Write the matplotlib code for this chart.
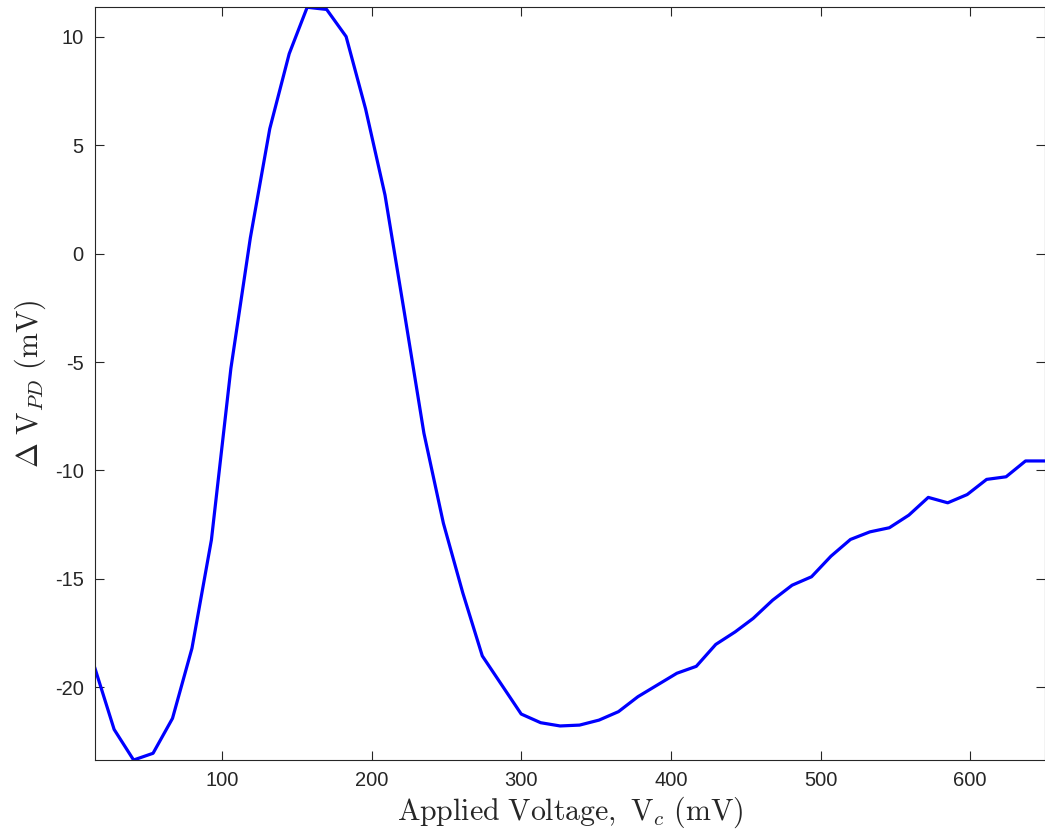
import matplotlib
matplotlib.use("Agg")
import matplotlib.pyplot as plt

plt.rcParams['font.family'] = ['Liberation Sans', 'DejaVu Sans']
plt.rcParams['mathtext.fontset'] = 'cm'
plt.rcParams['axes.unicode_minus'] = False

voltage = [15, 28, 41, 54, 67, 80, 93, 106, 119, 132, 145, 157, 170, 183, 196,
           209, 222, 235, 248, 261, 274, 287, 300, 313, 326, 339, 352, 365, 378,
           391, 404, 417, 430, 443, 455, 468, 481, 494, 507, 520, 533, 546, 559,
           572, 585, 598, 611, 624, 637, 650]
delta_vpd = [-19.08, -21.94, -23.35, -23.04, -21.43, -18.20, -13.2, -5.3, 0.72,
             5.76, 9.22, 11.36, 11.26, 10.01, 6.68, 2.7, -2.75, -8.28, -12.43,
             -15.65, -18.55, -19.89, -21.23, -21.63, -21.78, -21.74, -21.51,
             -21.12, -20.43, -19.89, -19.35, -19.03, -18.02, -17.44, -16.82,
             -15.98, -15.29, -14.90, -13.95, -13.18, -12.83, -12.64, -12.06,
             -11.24, -11.49, -11.11, -10.41, -10.29, -9.56, -9.56]
xticks = [100, 200, 300, 400, 500, 600]
yticks = [-20, -15, -10, -5, 0, 5, 10]

fig = plt.figure(figsize=(10.45, 8.36), dpi=100)
ax = fig.add_axes([0.0906, 0.0909, 0.9094, 0.9004])
ax.plot(voltage, delta_vpd, color=(0, 0, 1), linewidth=2.3)
ax.set_xlim(min(voltage), max(voltage))
ax.set_ylim(min(delta_vpd), max(delta_vpd))
ax.set_xticks(xticks)
ax.set_yticks(yticks)
ax.tick_params(direction='in', length=6.5, width=0.8, colors='#262626',
               labelsize=14.5, top=True, right=True, pad=8)
for s in ax.spines.values():
    s.set_color('#262626')
    s.set_linewidth(0.8)
ax.set_xlabel(r'$\mathrm{Applied\ Voltage,}\ \mathrm{V}_c\ \mathrm{(mV)}$', fontsize=21.5,
              color='#262626', labelpad=3)
ax.set_ylabel(r'$\Delta\ \mathrm{V}_{PD}\ \mathrm{(mV)}$', fontsize=21.5,
              color='#262626', labelpad=5)
fig.savefig('out.png', dpi=100)
